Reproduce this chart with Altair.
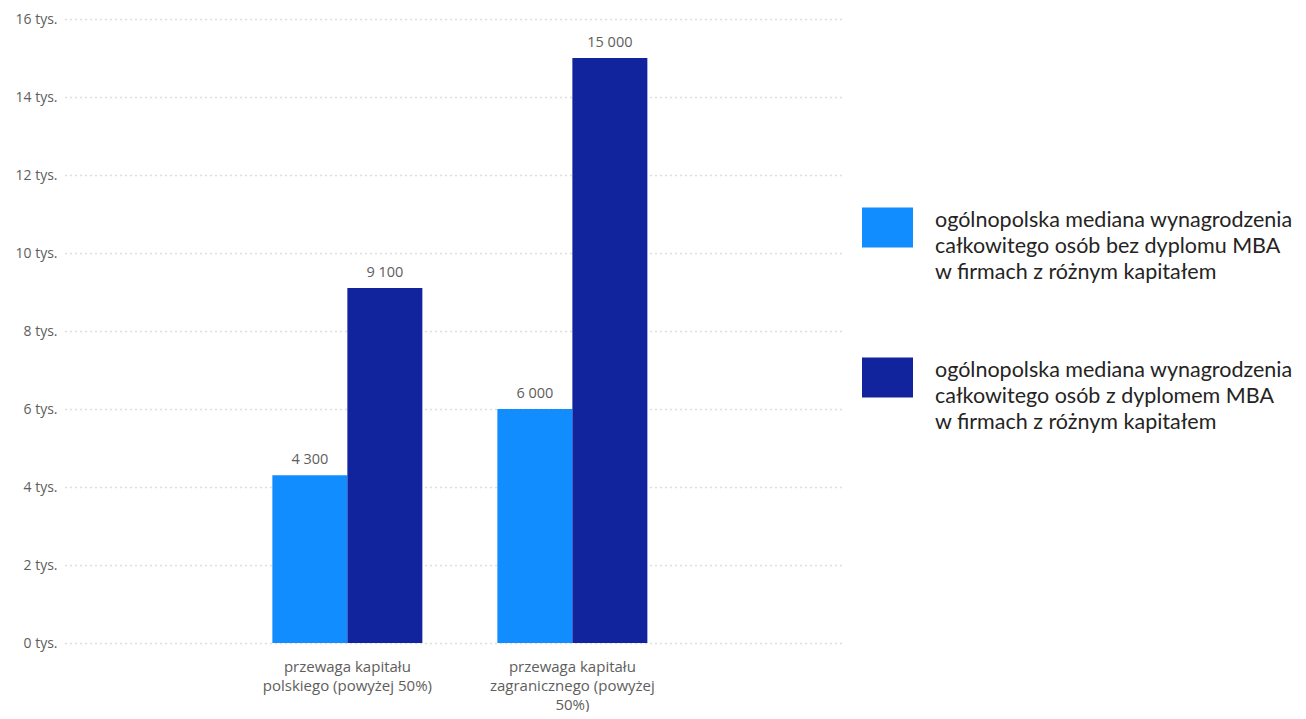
import altair as alt
import pandas as pd

# --- data ---
categories = [
    "przewaga kapitału\npolskiego (powyżej 50%)",
    "przewaga kapitału\nzagranicznego (powyżej\n50%)",
]
series = [
    "ogólnopolska mediana wynagrodzenia\ncałkowitego osób bez dyplomu MBA\nw firmach z różnym kapitałem",
    "ogólnopolska mediana wynagrodzenia\ncałkowitego osób z dyplomem MBA\nw firmach z różnym kapitałem",
]
values_no_mba = [4300, 6000]
values_mba = [9100, 15000]
y_ticks = [0, 2000, 4000, 6000, 8000, 10000, 12000, 14000, 16000]
colors = ["#118DFF", "#12239E"]

rows = []
for cat, v in zip(categories, values_no_mba):
    rows.append({"kategoria": cat, "seria": series[0], "wartosc": v})
for cat, v in zip(categories, values_mba):
    rows.append({"kategoria": cat, "seria": series[1], "wartosc": v})
df = pd.DataFrame(rows)

AXIS_FONT = "Open Sans"
AXIS_COLOR = "#605E5C"

base = alt.Chart(df).transform_calculate(
    etykieta="replace(format(datum.wartosc, ','), ',', ' ')"
).encode(
    x=alt.X(
        "kategoria:N",
        sort=categories,
        scale=alt.Scale(paddingInner=1 / 3, paddingOuter=0.9, align=0.512),
        axis=alt.Axis(
            title=None,
            labelAngle=0,
            labelExpr="split(datum.label, '\\n')",
            domain=False,
            ticks=False,
            labelPadding=16,
            labelLineHeight=19,
            labelFont=AXIS_FONT,
            labelFontSize=15,
            labelColor=AXIS_COLOR,
            labelLimit=300,
            grid=False,
        ),
    ),
    xOffset=alt.XOffset("seria:N", sort=series),
    y=alt.Y(
        "wartosc:Q",
        scale=alt.Scale(domain=[0, 16000]),
        axis=alt.Axis(
            title=None,
            values=y_ticks,
            labelExpr="datum.value / 1000 + ' tys.'",
            domain=False,
            ticks=False,
            grid=True,
            gridDash=[1, 4],
            gridColor="#BDBDBD",
            gridWidth=1.3,
            labelPadding=8,
            labelFont=AXIS_FONT,
            labelFontSize=14,
            labelColor=AXIS_COLOR,
            minExtent=57,
        ),
    ),
)

bars = base.mark_bar().encode(
    color=alt.Color(
        "seria:N",
        sort=series,
        scale=alt.Scale(domain=series, range=colors),
        legend=alt.Legend(
            title=None,
            orient="none",
            legendX=797,
            legendY=176,
            padding=0,
            symbolType="M-1,-0.509L1,-0.509L1,1.059L-1,1.059Z",
            symbolSize=2601,
            symbolStrokeWidth=0,
            labelExpr="split(datum.label, '\\n')",
            labelFont="Lato",
            labelFontSize=21.5,
            labelColor="#252423",
            labelLimit=600,
            labelOffset=22,
            rowPadding=62,
        ),
    )
)

labels = base.mark_text(
    baseline="bottom", dy=-8, font=AXIS_FONT, fontSize=14.5, color=AXIS_COLOR
).encode(text="etykieta:N")

chart = (
    alt.layer(bars, labels)
    .properties(width=780, height=624, padding={"left": 0, "top": 4, "right": 0, "bottom": 0})
    .configure(style={"guide-label": {"lineHeight": 26}})
    .configure_view(stroke=None)
)

chart.save("out.html", embed_options={"renderer": "svg", "actions": False})
